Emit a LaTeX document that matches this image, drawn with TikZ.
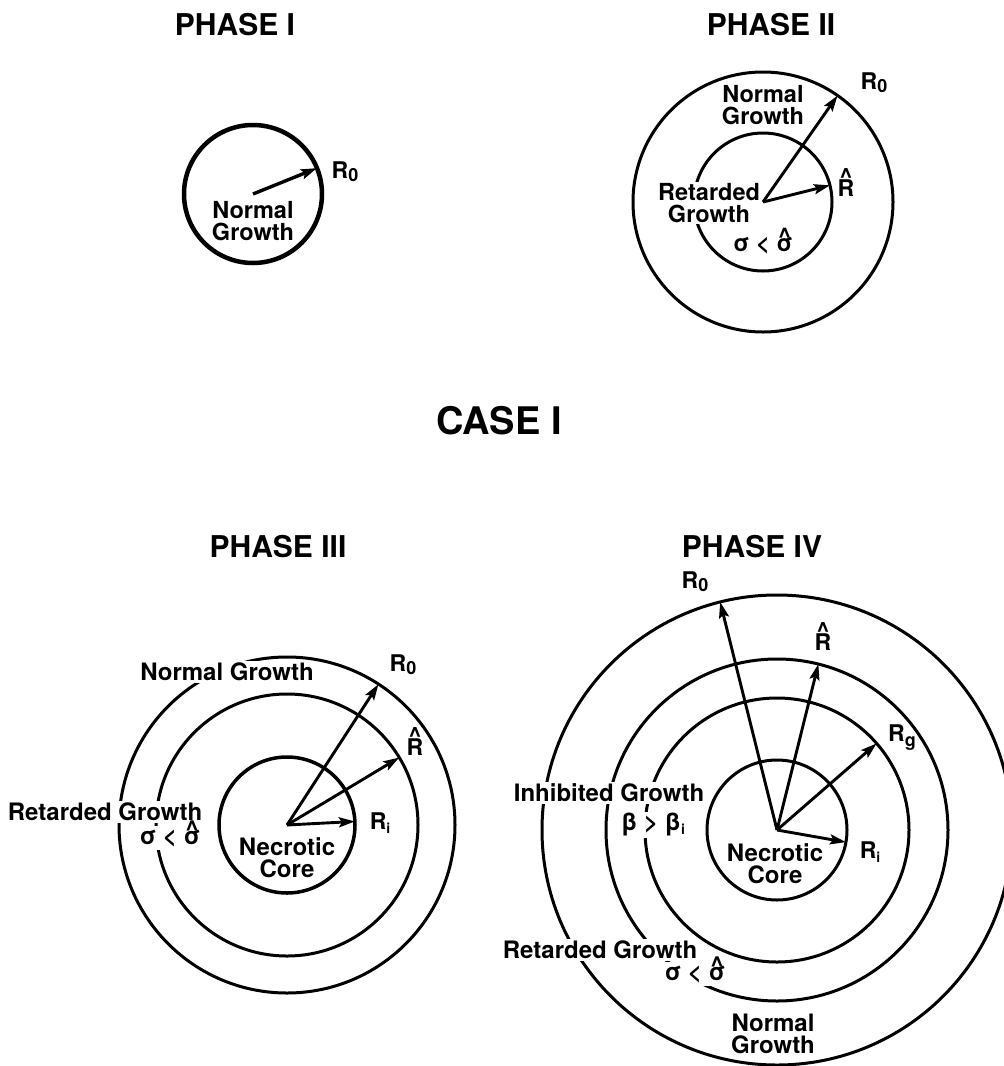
\documentclass[tikz,border=0pt]{standalone}
\usepackage{fontspec}
\setmainfont{TeX Gyre Heros}
\usetikzlibrary{arrows.meta}
\newcommand\hatted[3]{{\ooalign{#2\cr\hidewidth\raisebox{#1}[0pt][0pt]{#3}\hidewidth\cr}}}
\newcommand\chat{\textasciicircum}
\newcommand\Rsub[2][-3pt]{R\raisebox{#1}{\fontsize{18}{18}\selectfont #2}}
\begin{document}
\begin{tikzpicture}[x=1pt,y=-1pt,
  ring/.style={circle,draw,line width=#1,inner sep=0pt,outer sep=0pt},
  arr/.style={line width=2.9pt,-{Stealth[length=16pt,width=10pt,inset=3pt]}},
  title/.style={font=\fontsize{30}{30}\selectfont\bfseries,inner sep=0pt},
  lblA/.style={font=\fontsize{23.5}{22}\selectfont\bfseries,align=center,inner sep=1.5pt,fill=white},
  lblB/.style={font=\fontsize{24}{22}\selectfont\bfseries,align=center,inner sep=1.5pt,fill=white},
  sig/.style={font=\fontsize{24}{22}\selectfont\bfseries,align=center,inner xsep=1pt,inner ysep=3pt,fill=white},
  core/.style={font=\fontsize{24}{22}\selectfont\bfseries,align=center,inner sep=0pt},
  rlab/.style={font=\fontsize{23}{23}\selectfont\bfseries,inner sep=1pt}
]
\useasboundingbox[fill=white] (0,0) rectangle (1004,1066);

% ---------------- PHASE I ----------------
\node[title] (t1) at (235,25) {PHASE I};
\coordinate (c1) at (253,194);
\node[ring=4.5pt,minimum size=138pt] (p1) at (c1) {};
\draw[arr,line width=3.4pt] (c1) -- (p1.22);
\node[rlab] (r1) at (345,172) {\Rsub{0}};
\node[lblA] (n1) at (253,221) {Normal\\Growth};

% ---------------- PHASE II ----------------
\node[title] (t2) at (771,25) {PHASE II};
\coordinate (c2) at (763,202);
\node[ring=3pt,minimum size=260pt] (p2o) at (c2) {};
\node[ring=3pt,minimum size=138pt] (p2i) at (c2) {};
\draw[arr] (c2) -- (p2o.55.5);
\draw[arr] (c2) -- (p2i.14);
\node[rlab] (r2o) at (874,83) {\Rsub{0}};
\node[rlab,anchor=base] (r2h) at (846,196) {\hatted{12pt}{R}{\chat}};
\node[lblA] (n2) at (763,105) {Normal\\Growth};
\node[lblA] (g2) at (709,203) {Retarded\\Growth};
\node[lblA,anchor=base,inner sep=0.5pt] (s2) at (763,251) {σ < \hatted{7pt}{σ}{\chat}};

% ---------------- CASE I ----------------
\node[font=\fontsize{38}{38}\selectfont\bfseries,inner sep=0pt] (case) at (499,421) {CASE I};

% ---------------- PHASE III ----------------
\node[title] (t3) at (278,547) {PHASE III};
\coordinate (c3) at (287,825);
\node[ring=3pt,minimum size=336pt] (p3o) at (c3) {};
\node[ring=3pt,minimum size=262pt] (p3h) at (c3) {};
\node[ring=3.5pt,minimum size=136pt] (p3i) at (c3) {};
\draw[arr] (c3) -- (p3o.57);
\draw[arr] (c3) -- (p3h.31);
\draw[arr] (c3) -- (p3i.3);
\node[rlab] (r3o) at (403,665) {\Rsub{0}};
\node[rlab,anchor=base] (r3h) at (415,755) {\hatted{12pt}{R}{\chat}};
\node[rlab] (r3i) at (380,823) {\Rsub[-4pt]{\fontsize{14}{14}\selectfont i}};
\node[lblB] (n3) at (227,672) {Normal Growth};
\node[lblB] (g3) at (105,812) {Retarded Growth};
\node[sig,anchor=base] (s3) at (170,844) {σ < \hatted{7pt}{σ}{\chat}};
\node[core] (k3) at (287,858) {Necrotic\\Core};

% ---------------- PHASE IV ----------------
\node[title] (t4) at (752,547) {PHASE IV};
\coordinate (c4) at (777,830);
\node[ring=3pt,minimum size=470pt] (p4o) at (c4) {};
\node[ring=3pt,minimum size=342pt] (p4h) at (c4) {};
\node[ring=3pt,minimum size=264pt] (p4g) at (c4) {};
\node[ring=3pt,minimum size=140pt] (p4i) at (c4) {};
\draw[arr] (c4) -- (p4o.104);
\draw[arr] (c4) -- (p4h.76.5);
\draw[arr] (c4) -- (p4g.41);
\draw[arr] (c4) -- (p4i.-10.5);
\node[rlab] (r4o) at (695,582) {\Rsub{0}};
\node[rlab,anchor=base] (r4h) at (823,650) {\hatted{12pt}{R}{\chat}};
\node[rlab] (r4g) at (902,738) {\Rsub[-5pt]{g}};
\node[rlab] (r4i) at (870,852) {\Rsub[-4pt]{\fontsize{14}{14}\selectfont i}};
\node[lblB] (h4) at (609,793) {Inhibited Growth};
\node[lblB] (b4) at (653,825) {β > β\raisebox{-4pt}{\fontsize{14}{14}\selectfont i}};
\node[core] (k4) at (775,864) {Necrotic\\Core};
\node[lblB] (g4) at (600,950) {Retarded Growth};
\node[sig,anchor=base] (s4) at (695,980) {σ < \hatted{7pt}{σ}{\chat}};
\node[lblB] (n4) at (773,1034) {Normal\\Growth};
\end{tikzpicture}
\end{document}
